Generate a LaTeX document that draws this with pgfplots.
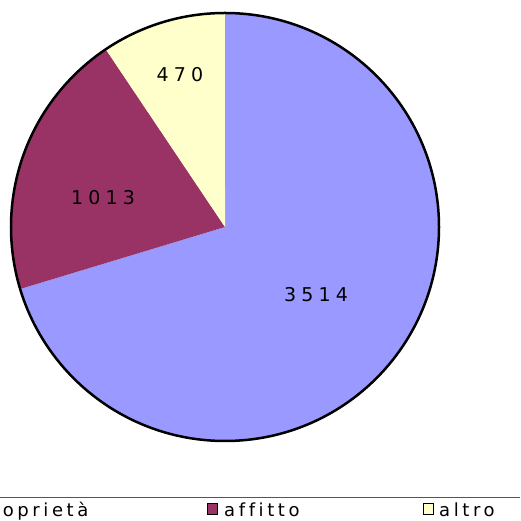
\documentclass[border=0pt]{standalone}
\usepackage{pgfplots}
\usepackage{pgfplotstable}
\pgfplotsset{compat=1.18}
\usepackage{fontspec}
\setmainfont{DejaVu Sans}[LetterSpace=27, Ligatures={NoCommon}]
\newfontfamily\legfont{DejaVu Sans}[LetterSpace=20, Ligatures={NoCommon}]
\definecolor{cBlue}{HTML}{9999FF}
\definecolor{cPurple}{HTML}{993366}
\definecolor{cYellow}{HTML}{FFFFCC}
\definecolor{cLine}{HTML}{555555}

\pgfplotstableread{
label value
proprieta 3514
affitto 1013
altro 470
}\piedata

\begin{document}
\begin{tikzpicture}
\pgfplotstablegetelem{0}{value}\of\piedata \pgfmathsetmacro{\vA}{\pgfplotsretval}
\pgfplotstablegetelem{1}{value}\of\piedata \pgfmathsetmacro{\vB}{\pgfplotsretval}
\pgfplotstablegetelem{2}{value}\of\piedata \pgfmathsetmacro{\vC}{\pgfplotsretval}
\pgfmathsetmacro{\tot}{\vA+\vB+\vC}
\pgfmathsetmacro{\eA}{90-360*(\vA/\tot)}
\pgfmathsetmacro{\eB}{\eA-360*(\vB/\tot)}
\pgfmathsetmacro{\eC}{\eB-360*(\vC/\tot)}
\begin{axis}[
  x=1pt, y=1pt, scale only axis,
  xmin=0, xmax=520, ymin=0, ymax=521,
  hide axis, clip=false,
]
\coordinate (bl) at (axis cs:0,0);
\coordinate (tr) at (axis cs:520,521);
% slices
\fill[cBlue] (axis cs:225,294) -- ++(90:214pt) arc[start angle=90, end angle=\eA, radius=214pt] -- cycle;
\fill[cPurple] (axis cs:225,294) -- ++(\eA:214pt) arc[start angle=\eA, end angle=\eB, radius=214pt] -- cycle;
\fill[cYellow] (axis cs:225,294) -- ++(\eB:214pt) arc[start angle=\eB, end angle=\eC, radius=214pt] -- cycle;
\draw[black, line width=2.5pt] (axis cs:225,294) circle[radius=214pt];
% value labels
\node[font=\fontsize{19}{22}\selectfont, inner sep=0pt] at (axis cs:180,446) {470};
\node[font=\fontsize{19}{22}\selectfont, inner sep=0pt] at (axis cs:103,323) {1013};
\node[font=\fontsize{19}{22}\selectfont, inner sep=0pt] at (axis cs:316,226) {3514};
% legend
\draw[cLine, line width=1pt] (axis cs:0,23) -- (axis cs:520,23);
\filldraw[fill=cBlue, draw=black, line width=1.2pt] (axis cs:-40.5,6.5) rectangle (axis cs:-30.5,17.5);
\node[font=\legfont\fontsize{18}{20}\selectfont, inner sep=0pt, anchor=base west] at (axis cs:-23,5) {proprietà};
\filldraw[fill=cPurple, draw=black, line width=1.2pt] (axis cs:207.5,6.5) rectangle (axis cs:217.5,17.5);
\node[font=\legfont\fontsize{18}{20}\selectfont, inner sep=0pt, anchor=base west] at (axis cs:224,5) {affitto};
\filldraw[fill=cYellow, draw=black, line width=1.2pt] (axis cs:423.5,6.5) rectangle (axis cs:433.5,17.5);
\node[font=\legfont\fontsize{18}{20}\selectfont, inner sep=0pt, anchor=base west] at (axis cs:439,5) {altro};
\end{axis}
\pgfresetboundingbox
\path[use as bounding box] (bl) rectangle (tr);
\end{tikzpicture}
\end{document}
